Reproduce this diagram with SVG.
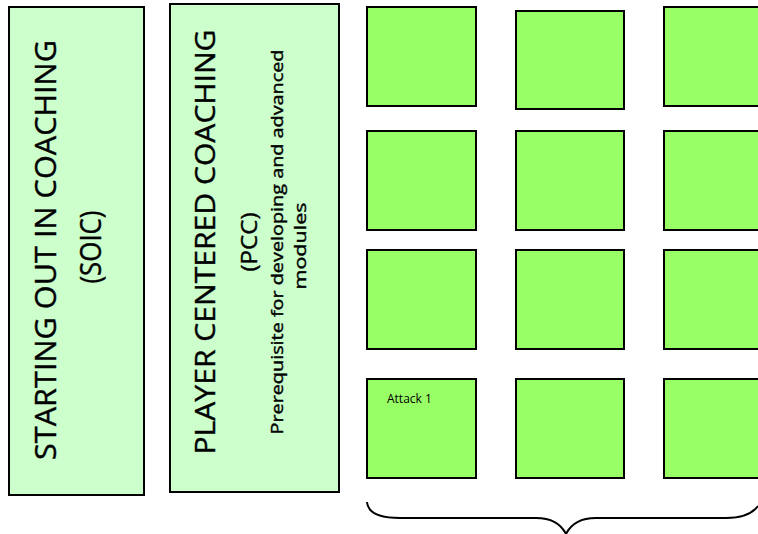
<svg xmlns="http://www.w3.org/2000/svg" width="758" height="534" viewBox="0 0 758 534">
<style>
.pale{fill:#CCFFCC;stroke:#000;stroke-width:2}
.mod{fill:#99FF66;stroke:#000;stroke-width:2}
.hd{font-family:"Open Sans","DejaVu Sans",sans-serif;fill:#000;stroke:#000;stroke-width:0.4}
.sm{font-family:"Open Sans","Liberation Sans",sans-serif;fill:#000}
.sub{stroke:#000;stroke-width:0.4}
.brace{fill:none;stroke:#000;stroke-width:2}
</style>
<rect width="758" height="534" fill="#fff"/>
<g id="soic">
<rect class="pale" x="9" y="7" width="135" height="488"/>
<text class="hd" font-size="29" text-anchor="middle" transform="translate(56,250) rotate(-90)" textLength="420" lengthAdjust="spacingAndGlyphs">STARTING OUT IN COACHING</text>
<text class="hd" font-size="29" text-anchor="middle" transform="translate(101,247) rotate(-90)" textLength="73" lengthAdjust="spacingAndGlyphs">(SOIC)</text>
</g>
<g id="pcc">
<rect class="pale" x="170" y="4" width="169" height="488"/>
<text class="hd" font-size="28" text-anchor="middle" transform="translate(215,242) rotate(-90)" textLength="425" lengthAdjust="spacingAndGlyphs">PLAYER CENTERED COACHING</text>
<text class="hd" font-size="21" text-anchor="middle" transform="translate(257,242) rotate(-90)" textLength="59" lengthAdjust="spacingAndGlyphs">(PCC)</text>
<text class="sm sub" font-size="16.5" text-anchor="middle" transform="translate(283,242) rotate(-90)" textLength="385" lengthAdjust="spacingAndGlyphs">Prerequisite for developing and advanced</text>
<text class="sm sub" font-size="16.5" text-anchor="middle" transform="translate(306,246) rotate(-90)" textLength="87" lengthAdjust="spacingAndGlyphs">modules</text>
</g>
<g id="r1c1"><rect class="mod" x="367" y="7" width="109" height="99"/></g>
<g id="r1c2"><rect class="mod" x="516" y="11" width="108" height="98"/></g>
<g id="r1c3"><rect class="mod" x="664" y="7" width="108" height="99"/></g>
<g id="r2c1"><rect class="mod" x="367" y="131" width="109" height="99"/></g>
<g id="r2c2"><rect class="mod" x="516" y="131" width="108" height="99"/></g>
<g id="r2c3"><rect class="mod" x="664" y="131" width="108" height="99"/></g>
<g id="r3c1"><rect class="mod" x="367" y="250" width="109" height="99"/></g>
<g id="r3c2"><rect class="mod" x="516" y="250" width="108" height="99"/></g>
<g id="r3c3"><rect class="mod" x="664" y="250" width="108" height="99"/></g>
<g id="r4c1"><rect class="mod" x="367" y="379" width="109" height="99"/>
<text class="sm" font-size="12" x="387" y="403">Attack 1</text></g>
<g id="r4c2"><rect class="mod" x="516" y="379" width="108" height="99"/></g>
<g id="r4c3"><rect class="mod" x="664" y="379" width="108" height="99"/></g>
<g id="connectors">
<path class="brace" d="M367,502 C368,514 382,518 400,518 L536,518 C552,518 561,524 566,534 C571,524 580,518 596,518 L726,518 C742,518 752,514 758,506"/>
</g>
</svg>
